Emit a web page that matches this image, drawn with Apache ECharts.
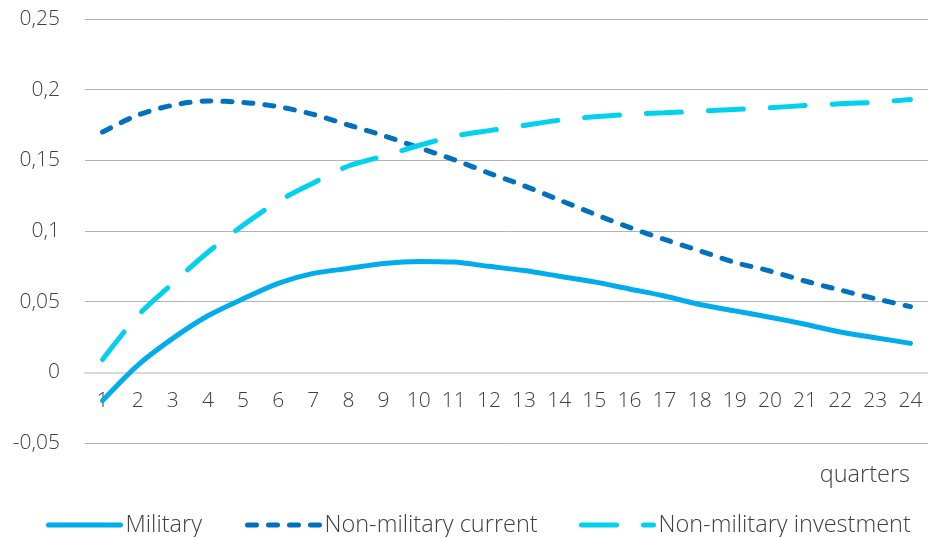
<!DOCTYPE html>
<html>
<head>
<meta charset="utf-8">
<script src="https://cdn.jsdelivr.net/npm/echarts@6/dist/echarts.min.js"></script>
<style>html,body{margin:0;padding:0;background:#fff}#c{width:928px;height:537px}</style>
</head>
<body>
<div id="c"></div>
<script>
var quarters = ['1','2','3','4','5','6','7','8','9','10','11','12','13','14','15','16','17','18','19','20','21','22','23','24'];
var military = [-0.020,0.005,0.024,0.040,0.052,0.063,0.070,0.0735,0.077,0.0785,0.078,0.075,0.072,0.068,0.064,0.059,0.054,0.048,0.0435,0.039,0.034,0.0285,0.0245,0.0205];
var nonMilitaryCurrent = [0.170,0.182,0.189,0.192,0.191,0.188,0.1825,0.175,0.1675,0.159,0.1505,0.141,0.132,0.122,0.112,0.1025,0.094,0.086,0.0778,0.0717,0.0646,0.0582,0.0521,0.0465];
var nonMilitaryInvestment = [0.009,0.040,0.063,0.085,0.104,0.121,0.134,0.146,0.153,0.1605,0.167,0.171,0.1747,0.1784,0.1808,0.1825,0.1836,0.1848,0.186,0.1872,0.1888,0.190,0.1911,0.193];
var seriesNames = ['Military','Non-military current','Non-military investment'];

var FONT = '"Open Sans", "Noto Sans", sans-serif';
var TXT = '#404040';
var GRID_TOP = 19, GRID_BOTTOM = 94, Y_MIN = -0.05, Y_MAX = 0.25;
var plotH = 537 - GRID_TOP - GRID_BOTTOM;
var zeroOffset = -plotH * (0 - Y_MIN) / (Y_MAX - Y_MIN);

var chart = echarts.init(document.getElementById('c'), null, {renderer:'canvas'});
function legendFor(name, left){
  return {
    data:[name], left:left, top:508, itemWidth:72, itemHeight:10, itemGap:0,
    itemStyle:{opacity:0},
    lineStyle:{width:5, cap:'round'},
    textStyle:{fontFamily:FONT, fontSize:23.5, fontWeight:300, color:TXT}
  };
}
chart.setOption({
  animation:false,
  grid:{left:85, right:0, top:GRID_TOP, bottom:GRID_BOTTOM},
  legend:[legendFor(seriesNames[0],41), legendFor(seriesNames[1],240), legendFor(seriesNames[2],574)],
  xAxis:{
    type:'category', data:quarters, boundaryGap:true, offset:zeroOffset,
    axisLine:{show:true, onZero:false, lineStyle:{color:'#d9d9d9', width:2}},
    axisTick:{show:false},
    axisLabel:{margin:18, fontFamily:FONT, fontSize:21, fontWeight:300, color:TXT, interval:0}
  },
  yAxis:{
    type:'value', min:Y_MIN, max:Y_MAX, interval:0.05,
    axisLine:{show:false}, axisTick:{show:false},
    splitLine:{lineStyle:{color:'#b3b3b3', width:1}},
    axisLabel:{margin:25, fontFamily:FONT, fontSize:21, fontWeight:300, color:TXT,
      formatter:function(v){ return String(Math.round(v*100)/100).replace('.', ','); }}
  },
  graphic:[{type:'text', right:18, top:463, style:{text:'quarters', font:'300 23.5px ' + FONT, fill:TXT}}],
  series:[
    {name:seriesNames[0], type:'line', data:military, smooth:0.3, symbol:'none', showSymbol:false,
     itemStyle:{color:'#00ACEC'}, lineStyle:{color:'#00ACEC', width:5, cap:'round'}, z:3},
    {name:seriesNames[1], type:'line', data:nonMilitaryCurrent, smooth:0.3, symbol:'none', showSymbol:false,
     itemStyle:{color:'#0070C0'}, lineStyle:{color:'#0070C0', width:5, type:[9,12], cap:'round'}, z:2},
    {name:seriesNames[2], type:'line', data:nonMilitaryInvestment, smooth:0.3, symbol:'none', showSymbol:false,
     itemStyle:{color:'#00D2EE'}, lineStyle:{color:'#00D2EE', width:5, type:[35,27], cap:'round'}, z:2}
  ]
});
</script>
</body>
</html>
